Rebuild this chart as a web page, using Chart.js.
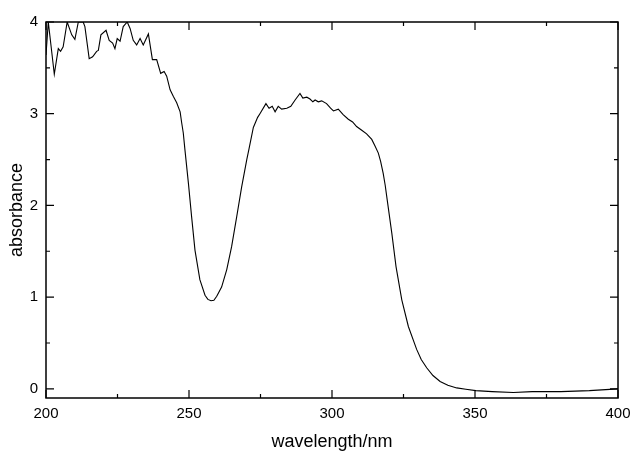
<!DOCTYPE html>
<html>
<head>
<meta charset="utf-8">
<script src="https://cdn.jsdelivr.net/npm/chart.js@4/dist/chart.umd.min.js"></script>
<style>
  html, body { margin: 0; padding: 0; background: #fff; }
  canvas { display: block; }
</style>
</head>
<body>
<canvas id="chart" width="632" height="451"></canvas>
<script>
// spectrum
const wavelength = [
  200, 200.8, 202.9, 204.3, 205.1, 206.0, 207.4, 209.0, 210.1, 211.3,
  213.0, 213.6, 215.1, 216.3, 217.7, 218.3, 219.2, 221.0, 222.1, 223.3,
  224.1, 224.9, 225.9, 227.0, 228.4, 229.4, 230.5, 231.7, 232.9, 234.0,
  235.8, 237.2, 238.7, 240.1, 241.3, 242.2, 243.4, 244.5, 245.7, 246.9,
  247.4, 248.0, 248.6, 249.8, 250.9, 252.1, 253.8, 255.6, 256.6, 257.7,
  258.7, 259.7, 261.4, 263.2, 264.9, 266.7, 268.4, 270.2, 271.0, 272.5,
  274.0, 274.8, 276.9, 278.0, 279.1, 280.1, 281.2, 282.4, 284.2, 285.6,
  287.1, 288.8, 289.8, 291.2, 292.3, 293.3, 294.1, 295.2, 296.4, 298.1,
  299.5, 300.5, 302.2, 303.9, 305.7, 307.2, 308.6, 310.4, 312.1, 313.9,
  315.0, 316.2, 317.0, 317.9, 318.6, 319.3, 320.9, 322.4, 324.4, 326.7,
  329.6, 331.2, 333.1, 335.3, 337.8, 340.5, 343.6, 346.8, 350.3, 356,
  363.4, 370, 380, 390, 400
];
const absorbance = [
  3.64, 4.0, 3.43, 3.71, 3.68, 3.73, 4.0, 3.86, 3.81, 4.0,
  4.0, 3.95, 3.60, 3.62, 3.68, 3.69, 3.86, 3.91, 3.80, 3.77,
  3.71, 3.82, 3.79, 3.95, 4.0, 3.93, 3.80, 3.75, 3.82, 3.75,
  3.87, 3.59, 3.59, 3.44, 3.46, 3.41, 3.26, 3.19, 3.12, 3.02,
  2.91, 2.79, 2.60, 2.24, 1.88, 1.51, 1.19, 1.02, 0.975, 0.96,
  0.965, 1.01, 1.11, 1.30, 1.55, 1.88, 2.20, 2.50, 2.62, 2.85,
  2.96, 3.00, 3.11, 3.06, 3.08, 3.02, 3.08, 3.05, 3.06, 3.08,
  3.15, 3.22, 3.17, 3.18, 3.16, 3.13, 3.15, 3.13, 3.14, 3.11,
  3.06, 3.03, 3.05, 2.99, 2.94, 2.91, 2.86, 2.82, 2.78, 2.72,
  2.65, 2.57, 2.48, 2.35, 2.22, 2.06, 1.70, 1.33, 0.97, 0.68,
  0.43, 0.32, 0.23, 0.145, 0.08, 0.04, 0.01, -0.005, -0.02, -0.03,
  -0.04, -0.03, -0.03, -0.02, 0.0
];

const xTicks = [200, 250, 300, 350, 400];
const xMinorTicks = [225, 275, 325, 375];
const yTicks = [0, 1, 2, 3, 4];
const yMinorTicks = [0.5, 1.5, 2.5, 3.5];

const points = wavelength.map((w, i) => ({ x: w, y: absorbance[i] }));

// frame with inward ticks on all four sides
const framePlugin = {
  id: 'frame',
  afterDraw(chart) {
    const { ctx, chartArea: a, scales } = chart;
    const x = scales.x, y = scales.y;
    ctx.save();
    ctx.strokeStyle = '#000';
    ctx.lineWidth = 1.5;
    ctx.strokeRect(a.left, a.top, a.right - a.left, a.bottom - a.top);
    ctx.lineWidth = 1.2;
    ctx.beginPath();
    const xt = (v, len) => {
      const px = x.getPixelForValue(v);
      ctx.moveTo(px, a.bottom); ctx.lineTo(px, a.bottom - len);
      ctx.moveTo(px, a.top); ctx.lineTo(px, a.top + len);
    };
    const yt = (v, len) => {
      const py = y.getPixelForValue(v);
      ctx.moveTo(a.left, py); ctx.lineTo(a.left + len, py);
      ctx.moveTo(a.right, py); ctx.lineTo(a.right - len, py);
    };
    xTicks.forEach(v => xt(v, 8));
    xMinorTicks.forEach(v => xt(v, 4));
    yTicks.forEach(v => yt(v, 8));
    yMinorTicks.forEach(v => yt(v, 4));
    ctx.stroke();
    ctx.restore();
  }
};

const font = 'Liberation Sans, Arial, Helvetica, sans-serif';

new Chart(document.getElementById('chart'), {
  type: 'line',
  data: {
    datasets: [{
      data: points,
      borderColor: '#000',
      borderWidth: 1.1,
      pointRadius: 0,
      fill: false,
      tension: 0
    }]
  },
  options: {
    responsive: false,
    animation: false,
    layout: { padding: { top: 22, right: 14, left: 0, bottom: 0 } },
    plugins: {
      legend: { display: false },
      tooltip: { enabled: false }
    },
    scales: {
      x: {
        type: 'linear',
        min: 200,
        max: 400,
        afterBuildTicks: (s) => { s.ticks = xTicks.map(v => ({ value: v })); },
        afterFit: (s) => {
          s.height = 53;
          // don't let the end labels push the plot area in
          s.paddingLeft = 0;
          s.paddingRight = 0;
        },
        grid: { display: false, drawTicks: false },
        border: { display: false },
        ticks: { color: '#000', padding: 7, maxRotation: 0, font: { family: font, size: 15 } },
        title: {
          display: true,
          text: 'wavelength/nm',
          color: '#000',
          padding: { top: 0, bottom: 0 },
          font: { family: font, size: 18, lineHeight: 1 }
        }
      },
      y: {
        min: -0.1,
        max: 4,
        afterBuildTicks: (s) => { s.ticks = yTicks.map(v => ({ value: v })); },
        afterFit: (s) => {
          s.width = 46;
          s.paddingTop = 0;
          s.paddingBottom = 0;
        },
        grid: { display: false, drawTicks: false },
        border: { display: false },
        ticks: { color: '#000', padding: 8, font: { family: font, size: 15 } },
        title: {
          display: true,
          text: 'absorbance',
          color: '#000',
          padding: { top: 8, bottom: 0 },
          font: { family: font, size: 18, lineHeight: 1 }
        }
      }
    }
  },
  plugins: [framePlugin]
});
</script>
</body>
</html>
